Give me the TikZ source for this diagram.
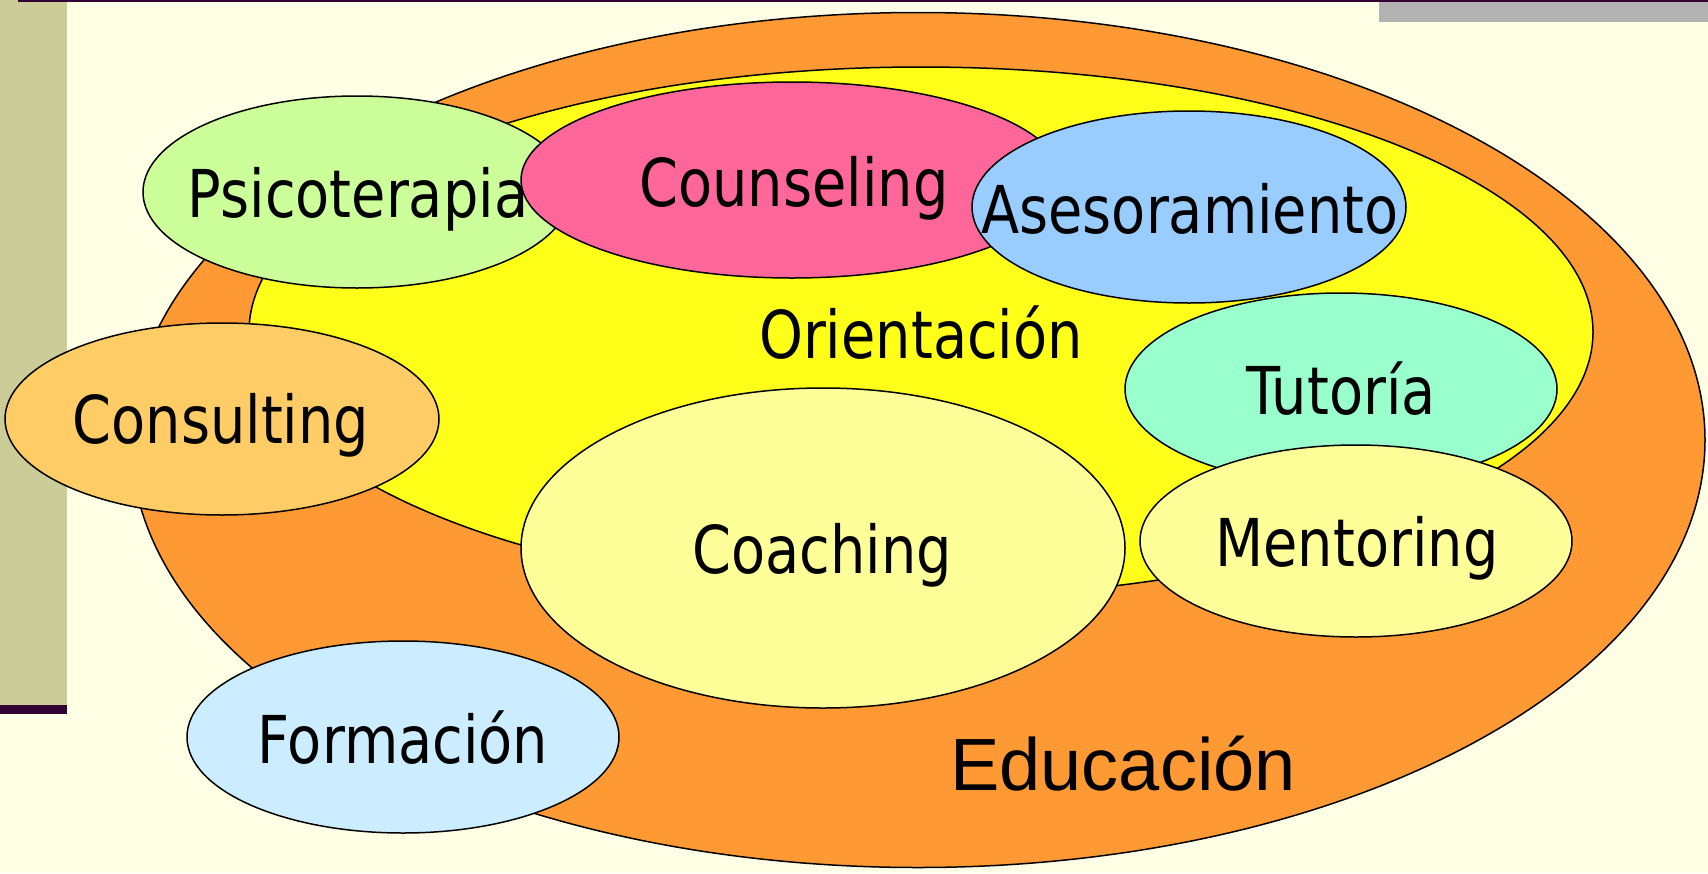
\documentclass[tikz,border=0pt]{standalone}
\usepackage{fontspec}
\setmainfont{DejaVu Sans}[FakeStretch=0.845]
\newfontfamily\edufont{Liberation Sans}
\usetikzlibrary{shapes.geometric}
\definecolor{bgc}{HTML}{FFFFE5}
\definecolor{barc}{HTML}{CCCC99}
\definecolor{darkc}{HTML}{330033}
\definecolor{grayc}{HTML}{B2B2B2}
\definecolor{orangec}{HTML}{FF9933}
\definecolor{yellowc}{HTML}{FFFF1A}
\definecolor{psicoc}{HTML}{CCFF99}
\definecolor{counsc}{HTML}{FF6699}
\definecolor{asesc}{HTML}{99CCFF}
\definecolor{consc}{HTML}{FFCC66}
\definecolor{tutc}{HTML}{99FFCC}
\definecolor{coachc}{HTML}{FFFF99}
\definecolor{formc}{HTML}{CCECFF}
\tikzset{
  blob/.style={ellipse, draw=black, line width=1.5pt, inner sep=0pt, outer sep=0pt},
  lbl/.style={anchor=base, inner sep=0pt, font=\fontsize{66}{70}\selectfont},
  edulbl/.style={anchor=base, inner sep=0pt, font=\edufont\fontsize{74}{80}\selectfont},
}
\begin{document}
\begin{tikzpicture}[x=1pt, y=-1pt]
\useasboundingbox (0,0) rectangle (1708,873);
\fill[bgc] (0,0) rectangle (1708,873);
\fill[barc] (0,0) rectangle (67,705);
\fill[darkc] (0,705) rectangle (67,714);
\fill[darkc] (18,0) rectangle (1708,1.6);
\fill[grayc] (1379,1.6) rectangle (1708,22);

\node[blob, fill=orangec, minimum width=1574pt, minimum height=855pt] (edu) at (918,440) {};
\node[blob, fill=yellowc, minimum width=1344pt, minimum height=530pt] (ori) at (921,332) {};
\node[blob, fill=psicoc, minimum width=428pt, minimum height=192pt] (psi) at (357,192) {};
\node[blob, fill=counsc, minimum width=542pt, minimum height=196pt] (cou) at (792,180) {};
\node[blob, fill=asesc, minimum width=434pt, minimum height=192pt] (ase) at (1189,207) {};
\node[blob, fill=consc, minimum width=434pt, minimum height=192pt] (con) at (222,419) {};
\node[blob, fill=tutc, minimum width=432pt, minimum height=192pt] (tut) at (1341,389) {};
\node[blob, fill=coachc, minimum width=604pt, minimum height=320pt] (coa) at (823,548) {};
\node[blob, fill=coachc, minimum width=432pt, minimum height=192pt] (men) at (1356,541) {};
\node[blob, fill=formc, minimum width=432pt, minimum height=192pt] (for) at (403,737) {};

\node[lbl] (tpsi) at (358,217) {Psicoterapia};
\node[lbl] (tcou) at (794,206) {Counseling};
\node[lbl] (tase) at (1190,233) {Asesoramiento};
\node[lbl] (tori) at (921,358) {Orientación};
\node[lbl] (tcon) at (221,443) {Consulting};
\node[lbl] (ttut) at (1341,414) {Tutoría};
\node[lbl] (tcoa) at (822,573) {Coaching};
\node[lbl] (tmen) at (1357,566) {Mentoring};
\node[lbl] (tfor) at (403,763) {Formación};
\node[edulbl] (tedu) at (1123,790) {Educación};
\end{tikzpicture}
\end{document}
